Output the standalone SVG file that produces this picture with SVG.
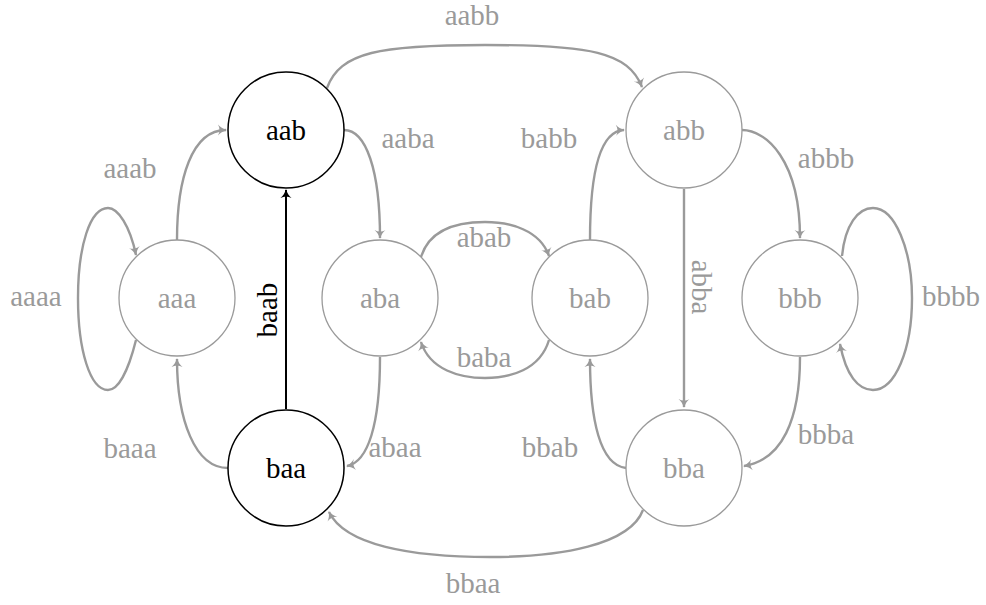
<svg xmlns="http://www.w3.org/2000/svg" width="986" height="605" viewBox="0 0 986 605">
<style>
text{font-family:'Liberation Serif','Times New Roman',Times,Tinos,'Noto Serif','DejaVu Serif',serif;font-size:29px;text-anchor:middle}
.g{fill:#9a9a9a}
.k{fill:#000}
.nc{fill:#fff;stroke:#9a9a9a;stroke-width:1.3}
.nk{fill:#fff;stroke:#000;stroke-width:1.5}
.e{fill:none;stroke:#9a9a9a;stroke-width:2.4;marker-end:url(#ag)}
.ek{fill:none;stroke:#000;stroke-width:2;marker-end:url(#ak)}
</style>
<defs>
<marker id="ag" markerUnits="userSpaceOnUse" viewBox="-10 -6 12 12" markerWidth="12" markerHeight="12" refX="0" refY="0" orient="auto">
<path d="M1,0 C-3,-1 -6,-3 -8,-5.5 C-6,-2 -6,2 -8,5.5 C-6,3 -3,1 1,0 Z" fill="#9a9a9a"/>
</marker>
<marker id="ak" markerUnits="userSpaceOnUse" viewBox="-10 -6 12 12" markerWidth="12" markerHeight="12" refX="0" refY="0" orient="auto">
<path d="M1,0 C-3,-1 -6,-3 -8,-5.5 C-6,-2 -6,2 -8,5.5 C-6,3 -3,1 1,0 Z" fill="#000"/>
</marker>
</defs>
<g id="connectors">
<path class="e" d="M177,240 C177,178 192,130 226,130"/>
<path class="e" d="M228,468 C195,468 177,420 177,359"/>
<path class="e" d="M136,340 C128,372 118,390 108,390 C90,390 78,350 78,298 C78,246 90,208 108,208 C118,208 130,226 136,255"/>
<path class="ek" d="M286,409 L286,190"/>
<path class="e" d="M344,130 C366,130 380,170 380,238"/>
<path class="e" d="M380,357 C380,425 368,462 347,466"/>
<path class="e" d="M327,88 C340,52 380,45 485,45 C590,45 628,52 642,87"/>
<path class="e" d="M421,257 C430,228 460,222 485,222 C510,222 540,230 549,256"/>
<path class="e" d="M549,340 C540,370 510,378 485,378 C460,378 430,370 421,342"/>
<path class="e" d="M590,240 C590,172 600,131 624,130"/>
<path class="e" d="M626,468 C600,465 590,420 590,359"/>
<path class="e" d="M684,189 L684,407"/>
<path class="e" d="M742,130 C766,130 800,160 800,238"/>
<path class="e" d="M800,357 C800,420 782,460 744,466"/>
<path class="e" d="M842,256 C845,225 858,208 873,208 C895,208 912,250 912,298 C912,350 895,390 873,390 C858,390 846,375 840,344"/>
<path class="e" d="M643,510 C630,545 560,557 490,557 C410,557 345,545 329,512"/>
</g>
<g id="edge-labels">
<text class="g" x="130" y="178">aaab</text>
<text class="g" x="36" y="306">aaaa</text>
<text class="g" x="130" y="458">baaa</text>
<text class="k" transform="translate(277,310) rotate(-90)">baab</text>
<text class="g" x="408" y="148">aaba</text>
<text class="g" x="395" y="457">abaa</text>
<text class="g" x="472" y="25">aabb</text>
<text class="g" x="484" y="247">abab</text>
<text class="g" x="484" y="367">baba</text>
<text class="g" x="549" y="148">babb</text>
<text class="g" x="550" y="457">bbab</text>
<text class="g" transform="translate(692,287) rotate(90)">abba</text>
<text class="g" x="826" y="168">abbb</text>
<text class="g" x="826" y="444">bbba</text>
<text class="g" x="951" y="306">bbbb</text>
<text class="g" x="473" y="593">bbaa</text>
</g>
<g id="aaa"><circle class="nc" cx="177" cy="298" r="58"/><text class="g" x="177" y="308">aaa</text></g>
<g id="aab"><circle class="nk" cx="286" cy="130" r="58"/><text class="k" x="286" y="140">aab</text></g>
<g id="baa"><circle class="nk" cx="286" cy="468" r="58"/><text class="k" x="286" y="478">baa</text></g>
<g id="aba"><circle class="nc" cx="380" cy="298" r="58"/><text class="g" x="380" y="308">aba</text></g>
<g id="bab"><circle class="nc" cx="590" cy="298" r="58"/><text class="g" x="590" y="308">bab</text></g>
<g id="abb"><circle class="nc" cx="684" cy="130" r="58"/><text class="g" x="684" y="140">abb</text></g>
<g id="bba"><circle class="nc" cx="684" cy="468" r="58"/><text class="g" x="684" y="478">bba</text></g>
<g id="bbb"><circle class="nc" cx="800" cy="298" r="58"/><text class="g" x="800" y="308">bbb</text></g>
</svg>
